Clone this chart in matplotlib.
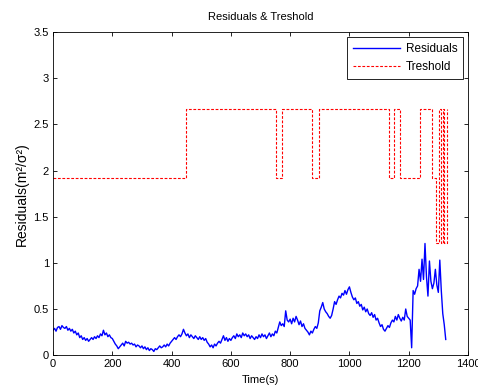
import matplotlib
matplotlib.use("Agg")
import matplotlib.pyplot as plt
import numpy as np
from matplotlib.ticker import FormatStrFormatter, MultipleLocator


plt.rcParams["font.family"] = ["Liberation Sans", "DejaVu Sans"]
plt.rcParams["font.size"] = 8


sample_step = 5
residuals = [
    0.27, 0.29, 0.26, 0.30, 0.31, 0.28, 0.32, 0.30, 0.29, 0.31, 0.27, 0.29, 0.26, 0.28, 0.24, 0.26, 0.22, 0.24, 0.19, 0.21,
    0.17, 0.19, 0.16, 0.18, 0.15, 0.17, 0.19, 0.17, 0.20, 0.18, 0.21, 0.19, 0.23, 0.21, 0.27, 0.22, 0.24, 0.20, 0.22, 0.19,
    0.18, 0.15, 0.12, 0.10, 0.07, 0.09, 0.11, 0.13, 0.10, 0.15, 0.13, 0.14, 0.12, 0.13, 0.11, 0.12, 0.09, 0.11, 0.10, 0.08,
    0.10, 0.07, 0.09, 0.06, 0.08, 0.05, 0.07, 0.06, 0.04, 0.07, 0.06, 0.08, 0.10, 0.08, 0.09, 0.11, 0.09, 0.12, 0.10, 0.13,
    0.15, 0.17, 0.19, 0.17, 0.20, 0.22, 0.20, 0.23, 0.28, 0.24, 0.21, 0.23, 0.19, 0.22, 0.20, 0.18, 0.21, 0.19, 0.17, 0.20,
    0.17, 0.19, 0.16, 0.18, 0.14, 0.12, 0.09, 0.11, 0.08, 0.12, 0.10, 0.13, 0.15, 0.13, 0.17, 0.21, 0.16, 0.19, 0.15, 0.18,
    0.16, 0.19, 0.21, 0.18, 0.23, 0.20, 0.22, 0.19, 0.24, 0.21, 0.23, 0.20, 0.22, 0.18, 0.21, 0.19, 0.17, 0.20, 0.18, 0.22,
    0.19, 0.23, 0.20, 0.22, 0.18, 0.21, 0.24, 0.20, 0.23, 0.21, 0.26, 0.24, 0.30, 0.36, 0.32, 0.34, 0.31, 0.48, 0.38, 0.36,
    0.39, 0.34, 0.40, 0.36, 0.42, 0.38, 0.33, 0.37, 0.31, 0.34, 0.29, 0.27, 0.25, 0.22, 0.26, 0.24, 0.28, 0.31, 0.29, 0.35,
    0.48, 0.52, 0.57, 0.50, 0.47, 0.45, 0.42, 0.40, 0.43, 0.50, 0.58, 0.55, 0.60, 0.64, 0.62, 0.67, 0.65, 0.70, 0.66, 0.71,
    0.74, 0.68, 0.63, 0.60, 0.62, 0.56, 0.58, 0.53, 0.55, 0.49, 0.52, 0.47, 0.50, 0.45, 0.43, 0.46, 0.41, 0.44, 0.38, 0.40,
    0.35, 0.31, 0.33, 0.28, 0.26, 0.29, 0.32, 0.30, 0.35, 0.38, 0.36, 0.42, 0.38, 0.44, 0.40, 0.37, 0.41, 0.38, 0.50, 0.42,
    0.40, 0.38, 0.08, 0.70, 0.66, 0.72, 0.75, 0.93, 0.80, 1.04, 0.82, 1.21, 0.85, 0.64, 1.02, 0.80, 0.72, 0.78, 0.93, 0.76,
    0.68, 1.03, 0.70, 0.45, 0.33, 0.17,
]
time_s = np.arange(len(residuals)) * sample_step

# threshold: level holds from each change time until the next
thr_times = [0, 450, 753, 773, 873, 898, 1135, 1150, 1171, 1239, 1280, 1293, 1303, 1308, 1315, 1319, 1328]
thr_levels = [1.92, 2.67, 1.92, 2.67, 1.92, 2.67, 1.92, 2.67, 1.92, 2.67, 1.92, 1.22, 2.67, 1.22, 2.67, 1.22, 2.67]

x_ticks = [0, 200, 400, 600, 800, 1000, 1200, 1400]


fig = plt.figure(figsize=(4.78, 3.92), dpi=100)
ax = fig.add_axes([0.111, 0.094, 0.868, 0.824])

ax.plot(time_s, residuals, color="#0000ff", linewidth=1.0, label="Residuals")
ax.plot(
    thr_times,
    thr_levels,
    color="#ff0000",
    linewidth=0.8,
    linestyle=(0, (2.5, 1.5)),
    drawstyle="steps-post",
    label="Treshold",
)

ax.set_xlim(0, 1400)
ax.set_ylim(0, 3.5)
ax.set_xticks(x_ticks)
ax.yaxis.set_major_locator(MultipleLocator(0.5))
ax.yaxis.set_major_formatter(FormatStrFormatter("%g"))
ax.tick_params(direction="in", top=True, right=True, length=3, width=0.6, labelsize=8, pad=3)
for spine in ax.spines.values():
    spine.set_linewidth(0.6)

ax.set_title("Residuals & Treshold", fontsize=8, pad=9)
ax.set_xlabel("Time(s)", fontsize=8, labelpad=4)
ax.set_ylabel("Residuals(m²/σ²)", fontsize=10, labelpad=3)

legend = ax.legend(
    loc="upper right",
    fontsize=8.5,
    frameon=True,
    fancybox=False,
    edgecolor="black",
    framealpha=1,
    handlelength=4.0,
    borderpad=0.5,
    labelspacing=0.55,
    handletextpad=0.5,
    borderaxespad=0.4,
)
legend.get_frame().set_linewidth(0.6)

fig.savefig("out.png", dpi=100, facecolor="white")
plt.close(fig)
